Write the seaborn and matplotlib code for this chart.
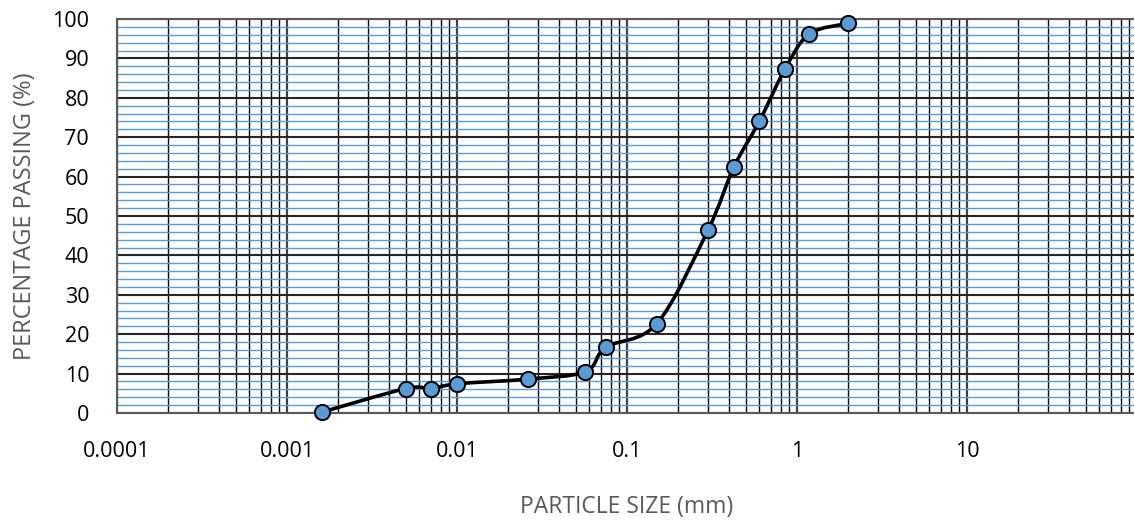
"""Grain size distribution curve (percentage passing vs particle size)."""

import numpy as np
import matplotlib
matplotlib.use('Agg')
import matplotlib.pyplot as plt
from matplotlib.path import Path
from matplotlib.patches import PathPatch
from matplotlib.ticker import LogLocator, MultipleLocator, FixedLocator, FixedFormatter, NullFormatter
import seaborn as sns

# data
particle_size = [0.0016, 0.005, 0.007, 0.01, 0.026, 0.057, 0.075, 0.15,
                 0.30, 0.425, 0.60, 0.85, 1.18, 2.0]
percent_passing = [0.2, 6.2, 6.2, 7.4, 8.6, 10.5, 16.7, 22.7,
                   46.5, 62.4, 74.0, 87.3, 96.2, 98.9]
x_ticks = [0.0001, 0.001, 0.01, 0.1, 1, 10]
x_tick_labels = ['0.0001', '0.001', '0.01', '0.1', '1', '10']

sns.set_style("white")
plt.rcParams['font.family'] = ['Open Sans', 'DejaVu Sans']

fig = plt.figure(figsize=(11.34, 5.23), dpi=100)
ax = fig.add_axes([117 / 1134, 1 - 413 / 523, 1020 / 1134, 394 / 523])
ax.set_xscale('log')
ax.set_xlim(0.0001, 100)
ax.set_ylim(0, 100)

# grid: black decades / sub-decades, black every 10 %, blue every 2 %
ax.xaxis.set_major_locator(FixedLocator(x_ticks + [100]))
ax.xaxis.set_major_formatter(FixedFormatter(x_tick_labels + ['']))
ax.xaxis.set_minor_locator(LogLocator(base=10, subs=np.arange(2, 10), numticks=20))
ax.xaxis.set_minor_formatter(NullFormatter())
ax.yaxis.set_major_locator(MultipleLocator(10))
ax.yaxis.set_minor_locator(MultipleLocator(2))

ax.grid(axis='y', which='minor', color='#5B9BD5', lw=1.0, zorder=0)
ax.grid(axis='y', which='major', color='#262626', lw=1.5, zorder=1)
ax.grid(axis='x', which='minor', color='#000000', lw=1.0, zorder=1)
ax.grid(axis='x', which='major', color='#404040', lw=1.6, zorder=1)
ax.set_axisbelow(True)

for s in ax.spines.values():
    s.set_color('#595959')
    s.set_linewidth(1.5)

ax.tick_params(which='both', length=0, labelsize=15.5, colors='#000000')
ax.tick_params(axis='x', pad=20)
ax.tick_params(axis='y', pad=20)

# smoothed line (Catmull-Rom bezier, like the spreadsheet "smooth line")
lx = np.log10(particle_size)
py = np.array(percent_passing)
pts = np.column_stack([lx, py])
verts = [pts[0]]
codes = [Path.MOVETO]
n = len(pts)
for i in range(n - 1):
    p0 = pts[max(i - 1, 0)]
    p1 = pts[i]
    p2 = pts[i + 1]
    p3 = pts[min(i + 2, n - 1)]
    c1 = p1 + (p2 - p0) / 6
    c2 = p2 - (p3 - p1) / 6
    verts += [c1, c2, p2]
    codes += [Path.CURVE4] * 3
verts = np.array(verts)
verts[:, 0] = 10 ** verts[:, 0]
ax.add_patch(PathPatch(Path(verts, codes), fill=False, edgecolor='black',
                       lw=2.6, capstyle='round', joinstyle='round', zorder=3))

sns.scatterplot(x=particle_size, y=percent_passing, ax=ax, s=120,
                color='#5B9BD5', edgecolor='black', linewidth=1.4, zorder=4,
                clip_on=False)

ax.set_xlabel('PARTICLE SIZE (mm)', fontsize=16.5, color='#595959', labelpad=24)
ax.set_ylabel('PERCENTAGE PASSING (%)', fontsize=17, color='#595959', labelpad=11)

fig.savefig('out.png', dpi=100)
